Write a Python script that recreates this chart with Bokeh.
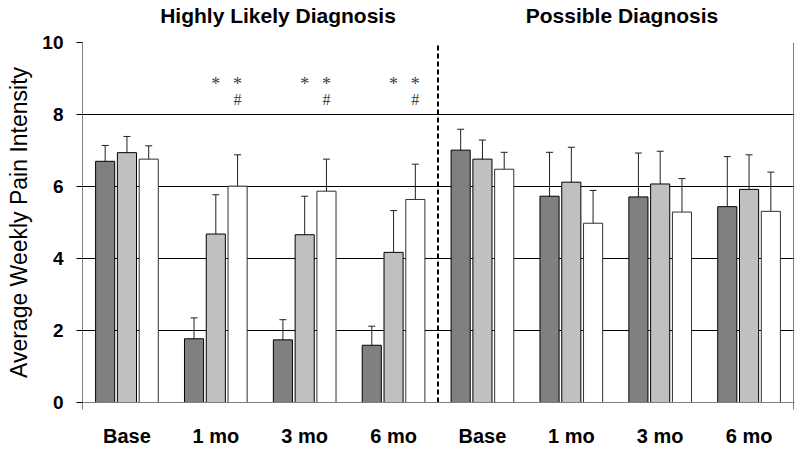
from bokeh.plotting import figure
from bokeh.layouts import column
from bokeh.models import (Range1d, FixedTicker, Whisker, TeeHead, Label,
                          ColumnDataSource)
from bokeh.core.properties import value
from bokeh.embed import file_html
from bokeh.resources import INLINE

# ---- data ----
groups = ["Base", "1 mo", "3 mo", "6 mo", "Base", "1 mo", "3 mo", "6 mo"]
panel_titles = ["Highly Likely Diagnosis", "Possible Diagnosis"]

dark_mean = [6.70, 1.77, 1.74, 1.59, 7.01, 5.73, 5.71, 5.44]
dark_hi = [7.14, 2.35, 2.30, 2.12, 7.59, 6.95, 6.93, 6.83]
dark_lo = [6.28, 1.17, 1.13, 1.01, 6.40, 4.50, 4.47, 4.04]

light_mean = [6.94, 4.68, 4.66, 4.17, 6.76, 6.12, 6.07, 5.92]
light_hi = [7.39, 5.77, 5.73, 5.33, 7.29, 7.09, 6.98, 6.88]
light_lo = [6.44, 3.61, 3.56, 3.01, 6.22, 5.15, 5.13, 4.98]

white_mean = [6.76, 6.01, 5.87, 5.64, 6.48, 4.98, 5.29, 5.31]
white_hi = [7.13, 6.88, 6.76, 6.62, 6.95, 5.89, 6.22, 6.40]
white_lo = [6.35, 5.13, 4.98, 4.63, 6.02, 4.05, 4.37, 4.22]

# significance markers
star_groups = [1, 2, 3]
star_y = 8.86
hash_y = 8.43

y_ticks = [0, 2, 4, 6, 8, 10]
grid_ticks = [2, 4, 6, 8, 10]
y_max = 10
n_groups = 8

# ---- layout constants ----
offsets = [-0.245, 0.0, 0.245]
bar_w = 0.215
FONT = "Liberation Sans"
PX_PER_X = 711 / 8
x_range = Range1d(0, 712 / PX_PER_X)

# ---- main plot ----
p = figure(output_backend="svg", toolbar_location=None, title=None,
           width=800, height=421,
           min_border_left=82, min_border_right=6,
           min_border_top=12, min_border_bottom=49,
           x_range=x_range, y_range=Range1d(0, y_max))
p.background_fill_color = "white"
p.outline_line_color = None

centers = [i + 0.5 for i in range(len(groups))]

series = [
    (dark_mean, dark_lo, dark_hi, "#808080", "black"),
    (light_mean, light_lo, light_hi, "#c0c0c0", "black"),
    (white_mean, white_lo, white_hi, "white", "#303030"),
]

# grid
p.xgrid.grid_line_color = None
p.ygrid.ticker = FixedTicker(ticks=grid_ticks)
p.ygrid.grid_line_color = "black"
p.ygrid.grid_line_width = 1

# right border of the plot area and the dashed divider
p.segment(x0=[n_groups], y0=[0], x1=[n_groups], y1=[y_max],
          line_color="#808080", line_width=1)
p.segment(x0=[n_groups / 2], y0=[0], x1=[n_groups / 2], y1=[y_max],
          line_color="black", line_width=2, line_dash="5 3")

for (mean, lo, hi, fill, edge), off in zip(series, offsets):
    xs = [c + off for c in centers]
    src = ColumnDataSource(dict(x=xs, top=mean, lo=lo, hi=hi))
    p.vbar(x="x", top="top", width=bar_w, bottom=0, source=src,
           fill_color=fill, line_color=edge, line_width=1)
    w = Whisker(base="x", upper="hi", lower="lo", source=src,
                line_color="#202020", line_width=1,
                upper_head=TeeHead(size=7, line_color="#202020", line_width=1),
                lower_head=TeeHead(size=7, line_color="#202020", line_width=1))
    p.add_layout(w)

# significance markers
sx, sy, st = [], [], []
for g in star_groups:
    sx += [centers[g] + offsets[1], centers[g] + offsets[2]]
    sy += [star_y, star_y]
    st += ["*", "*"]
hx = [centers[g] + offsets[2] for g in star_groups]
p.text(x=sx, y=sy, text=st, text_align="center", text_baseline="middle",
       text_font=value("Liberation Serif"), text_font_size="18px",
       text_color="#404040")
p.text(x=hx, y=[hash_y] * len(hx), text=["#"] * len(hx), text_align="center",
       text_baseline="middle", text_font=value("Liberation Serif"),
       text_font_size="16px", text_color="#404040")

# y axis
p.yaxis.ticker = FixedTicker(ticks=y_ticks)
p.yaxis.axis_line_color = "#808080"
p.yaxis.major_tick_line_color = "black"
p.yaxis.major_tick_out = 6
p.yaxis.major_tick_in = 0
p.yaxis.minor_tick_line_color = None
p.yaxis.major_label_text_font = FONT
p.yaxis.major_label_text_font_style = "bold"
p.yaxis.major_label_text_font_size = "19px"
p.yaxis.major_label_text_color = "black"
p.yaxis.major_label_standoff = 13
p.yaxis.axis_label = "Average Weekly Pain Intensity"
p.yaxis.axis_label_text_font = FONT
p.yaxis.axis_label_text_font_style = "normal"
p.yaxis.axis_label_text_font_size = "23px"
p.yaxis.axis_label_text_color = "black"
p.yaxis.axis_label_standoff = 7

# x axis
p.xaxis.ticker = FixedTicker(ticks=centers, minor_ticks=[0, n_groups])
p.xaxis.major_label_overrides = {c: g for c, g in zip(centers, groups)}
p.xaxis.axis_line_color = "#808080"
p.xaxis.major_tick_line_color = None
p.xaxis.major_tick_out = 0
p.xaxis.major_tick_in = 0
p.xaxis.minor_tick_line_color = "#808080"
p.xaxis.minor_tick_out = 7
p.xaxis.minor_tick_in = 0
p.xaxis.major_label_text_font = FONT
p.xaxis.major_label_text_font_style = "bold"
p.xaxis.major_label_text_font_size = "20px"
p.xaxis.major_label_text_color = "black"
p.xaxis.major_label_standoff = 15

# ---- panel titles strip (shares the x scale) ----
top = figure(output_backend="svg", toolbar_location=None, title=None,
             width=800, height=30,
             min_border_left=82, min_border_right=6,
             min_border_top=0, min_border_bottom=0,
             x_range=x_range, y_range=Range1d(0, 30),
             x_axis_type=None, y_axis_type=None)
top.outline_line_color = None
top.grid.grid_line_color = None
for tx, t in zip([2.2, 6.07], panel_titles):
    top.add_layout(Label(x=tx, y=15.5, text=t, text_align="center",
                         text_baseline="middle", text_font=FONT,
                         text_font_style="bold", text_font_size="21px",
                         text_color="black"))

layout = column(top, p, spacing=0)
open("out.html", "w").write(file_html(layout, INLINE))
